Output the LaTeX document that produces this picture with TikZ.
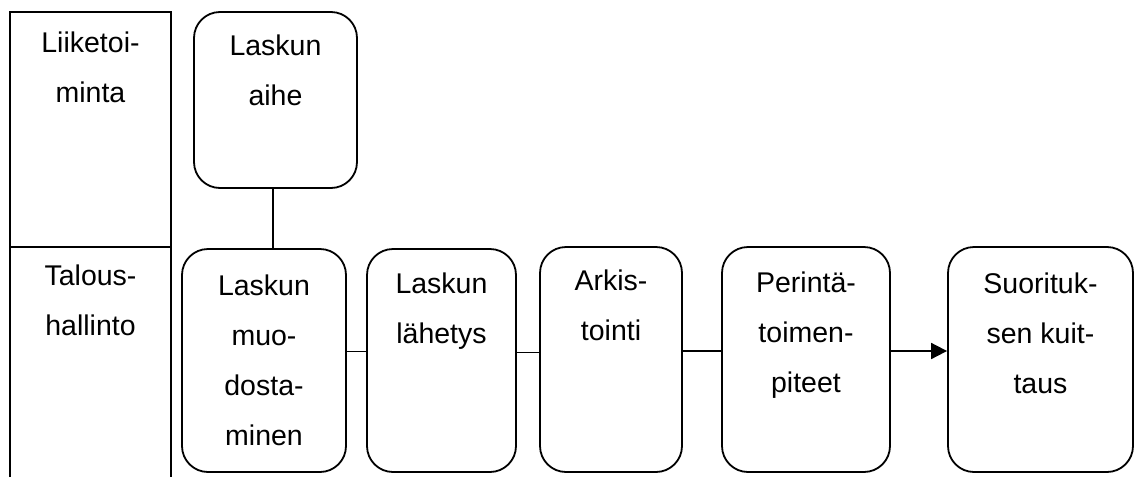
\documentclass[tikz,border=0pt]{standalone}
\usepackage{fontspec}
\setmainfont{Liberation Sans}
\usetikzlibrary{arrows.meta}
\tikzset{
  stepbox/.style={draw, line width=1.8pt, rounded corners=26pt, inner sep=0pt},
  txt/.style={anchor=north, align=center, inner sep=0pt,
    font=\fontsize{28.5}{50}\selectfont},
  conn/.style={line width=1.8pt},
  rule/.style={line width=1.8pt},
}
% first-line strut: node top sits 20pt above the first baseline
\newcommand{\fl}{\rule{0pt}{20pt}}
\begin{document}
\begin{tikzpicture}[x=1pt,y=-1pt]
\useasboundingbox (0,0) rectangle (1136,477);

% swimlane frame
\coordinate (tl) at (10,12);
\coordinate (tr) at (171,12);
\coordinate (bl) at (10,477);
\coordinate (br) at (171,477);
\coordinate (ml) at (10,247);
\coordinate (mr) at (171,247);
\draw[rule] (bl) -- (tl) -- (tr) -- (br);
\draw[rule] (ml) -- (mr);
\node[txt] (lane1) at (90.5,32) {\fl Liiketoi-\\minta};
\node[txt] (lane2) at (90.5,265) {\fl Talous-\\hallinto};

% process steps
\node[stepbox, minimum width=163pt, minimum height=176pt] (aihe) at (275.5,100) {};
\node[stepbox, minimum width=164pt, minimum height=223pt] (muod) at (264,360.5) {};
\node[stepbox, minimum width=149pt, minimum height=223pt] (lah)  at (441.5,360.5) {};
\node[stepbox, minimum width=142pt, minimum height=225pt] (ark)  at (611,359.5) {};
\node[stepbox, minimum width=168pt, minimum height=225pt] (per)  at (806,359.5) {};
\node[stepbox, minimum width=185pt, minimum height=225pt] (suo)  at (1040.5,359.5) {};

\node[txt] (t-aihe) at (275.5,35)  {\fl Laskun\\aihe};
\node[txt] (t-muod) at (264,275)   {\fl Laskun\\muo-\\dosta-\\minen};
\node[txt] (t-lah)  at (441.5,273) {\fl Laskun\\lähetys};
\node[txt] (t-ark)  at (611,270)   {\fl Arkis-\\tointi};
\node[txt] (t-per)  at (806,272)   {\fl Perintä-\\toimen-\\piteet};
\node[txt] (t-suo)  at (1040.5,273){\fl Suorituk-\\sen kuit-\\taus};

% connectors
\draw[conn] ([xshift=-2.5pt]aihe.south) -- ([xshift=-2.5pt]aihe.south |- muod.north);
\draw[conn] ([yshift=9pt]muod.east) -- ([yshift=9pt]muod.east -| lah.west);
\draw[conn] ([yshift=8pt]lah.east) -- ([yshift=8pt]lah.east -| ark.west);
\draw[conn] ([yshift=8.5pt]ark.east) -- ([yshift=8.5pt]ark.east -| per.west);
\draw[conn, -{Triangle[length=16pt,width=16pt]}] ([yshift=8.5pt]per.east) -- ([yshift=8.5pt]per.east -| suo.west);
\end{tikzpicture}
\end{document}
